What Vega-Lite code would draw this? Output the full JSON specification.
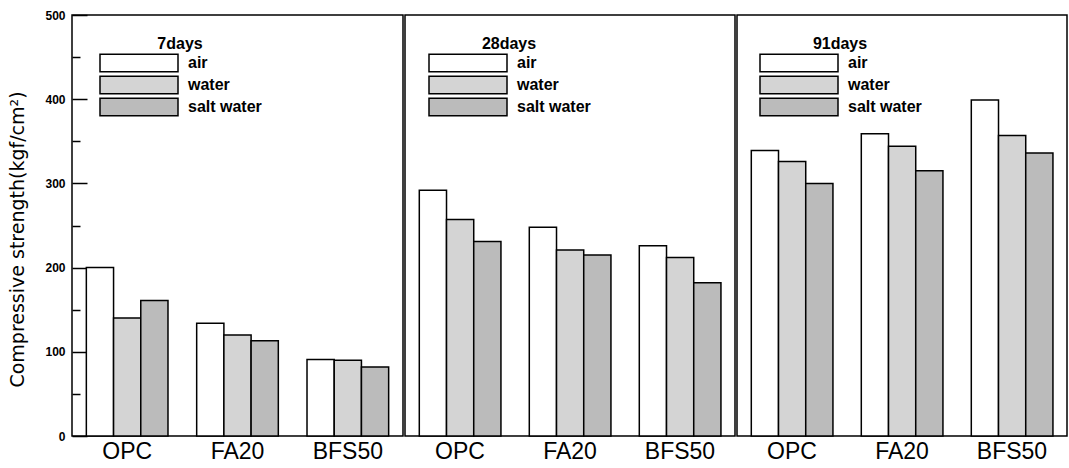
{
  "$schema": "https://vega.github.io/schema/vega-lite/v6.json",
  "padding": {"left": 8, "top": 8, "right": 4, "bottom": 3},
  "spacing": 0,
  "background": "white",
  "datasets": {
    "d": [
      {"age": "7days", "material": "OPC", "condition": "air", "strength": 200},
      {"age": "7days", "material": "OPC", "condition": "water", "strength": 140},
      {"age": "7days", "material": "OPC", "condition": "salt water", "strength": 161},
      {"age": "7days", "material": "FA20", "condition": "air", "strength": 134},
      {"age": "7days", "material": "FA20", "condition": "water", "strength": 120},
      {"age": "7days", "material": "FA20", "condition": "salt water", "strength": 113},
      {"age": "7days", "material": "BFS50", "condition": "air", "strength": 91},
      {"age": "7days", "material": "BFS50", "condition": "water", "strength": 90},
      {"age": "7days", "material": "BFS50", "condition": "salt water", "strength": 82},
      {"age": "28days", "material": "OPC", "condition": "air", "strength": 292},
      {"age": "28days", "material": "OPC", "condition": "water", "strength": 257},
      {"age": "28days", "material": "OPC", "condition": "salt water", "strength": 231},
      {"age": "28days", "material": "FA20", "condition": "air", "strength": 248},
      {"age": "28days", "material": "FA20", "condition": "water", "strength": 221},
      {"age": "28days", "material": "FA20", "condition": "salt water", "strength": 215},
      {"age": "28days", "material": "BFS50", "condition": "air", "strength": 226},
      {"age": "28days", "material": "BFS50", "condition": "water", "strength": 212},
      {"age": "28days", "material": "BFS50", "condition": "salt water", "strength": 182},
      {"age": "91days", "material": "OPC", "condition": "air", "strength": 339},
      {"age": "91days", "material": "OPC", "condition": "water", "strength": 326},
      {"age": "91days", "material": "OPC", "condition": "salt water", "strength": 300},
      {"age": "91days", "material": "FA20", "condition": "air", "strength": 359},
      {"age": "91days", "material": "FA20", "condition": "water", "strength": 344},
      {"age": "91days", "material": "FA20", "condition": "salt water", "strength": 315},
      {"age": "91days", "material": "BFS50", "condition": "air", "strength": 399},
      {"age": "91days", "material": "BFS50", "condition": "water", "strength": 357},
      {"age": "91days", "material": "BFS50", "condition": "salt water", "strength": 336}
    ]
  },
  "config": {
    "view": {"stroke": "black", "strokeWidth": 1.5},
    "font": "Liberation Sans",
    "axisX": {
      "domain": false, "ticks": false, "title": null, "labelAngle": 0,
      "labelFont": "Liberation Sans", "labelFontSize": 23, "labelColor": "black", "labelPadding": 4
    },
    "legend": {
      "orient": "none",
      "symbolType": "M-1,-0.975L7.667,-0.975L7.667,0.975L-1,0.975Z",
      "symbolSize": 324, "symbolStrokeColor": "black", "symbolStrokeWidth": 1.2, "symbolOpacity": 1,
      "labelFont": "Liberation Sans", "labelFontSize": 16, "labelFontWeight": "bold", "labelColor": "black",
      "labelOffset": 69, "rowPadding": -2,
      "titleFont": "Liberation Sans", "titleFontSize": 16, "titleFontWeight": "bold", "titleColor": "black",
      "titleAnchor": "middle", "titlePadding": 1
    },
    "bar": {"stroke": "black", "strokeWidth": 1.5}
  },
  "hconcat": [
    {
      "width": 331, "height": 421,
      "data": {"name": "d"},
      "transform": [{"filter": "datum.age === '7days'"}],
      "layer": [
        {
          "mark": {"type": "bar"},
          "encoding": {
            "x": {"field": "material", "type": "nominal", "sort": ["OPC", "FA20", "BFS50"], "scale": {"paddingInner": 0.26, "paddingOuter": 0.13}},
            "xOffset": {"field": "condition", "type": "nominal", "sort": ["air", "water", "salt water"], "scale": {"paddingInner": 0, "paddingOuter": 0}},
            "y": {
              "field": "strength", "type": "quantitative", "scale": {"domain": [0, 500]},
              "axis": {
                "values": [0, 100, 200, 300, 400, 500],
                "tickSize": -15,
                "tickColor": "black", "tickWidth": 1.5, "domain": false, "grid": false,
                "labelFont": "Liberation Sans", "labelFontSize": 12, "labelFontWeight": "bold", "labelColor": "black",
                "labelPadding": 22,
                "title": "Compressive strength(kgf/cm²)", "titleFont": "DejaVu Sans", "titleFontSize": 19,
                "titleFontWeight": "normal", "titleColor": "black", "titlePadding": 17, "titleY": 224
              }
            },
            "fill": {"field": "condition", "type": "nominal", "title": "7days",
              "scale": {"domain": ["air", "water", "salt water"], "range": ["#ffffff", "#d4d4d4", "#bbbbbb"]},
              "legend": {"legendX": 27, "legendY": 21}}
          }
        },
        {
          "mark": {"type": "point", "opacity": 0},
          "encoding": {
            "y": {
              "field": "strength", "type": "quantitative", "scale": {"domain": [0, 500]},
              "axis": {
                "orient": "left", "values": [50, 150, 250, 350, 450], "tickSize": -8,
                "tickColor": "black", "tickWidth": 1.5, "domain": false, "grid": false,
                "labels": false, "title": null
              }
            }
          }
        }
      ],
      "resolve": {"axis": {"y": "independent"}}
    },
    {
      "width": 330, "height": 421,
      "data": {"name": "d"},
      "transform": [{"filter": "datum.age === '28days'"}],
      "mark": {"type": "bar"},
      "encoding": {
        "x": {"field": "material", "type": "nominal", "sort": ["OPC", "FA20", "BFS50"], "scale": {"paddingInner": 0.26, "paddingOuter": 0.13}},
        "xOffset": {"field": "condition", "type": "nominal", "sort": ["air", "water", "salt water"], "scale": {"paddingInner": 0, "paddingOuter": 0}},
        "y": {"field": "strength", "type": "quantitative", "scale": {"domain": [0, 500]}, "axis": null},
        "fill": {"field": "condition", "type": "nominal", "title": "28days",
          "scale": {"domain": ["air", "water", "salt water"], "range": ["#ffffff", "#d4d4d4", "#bbbbbb"]},
          "legend": {"legendX": 23, "legendY": 21}}
      }
    },
    {
      "width": 330, "height": 421,
      "data": {"name": "d"},
      "transform": [{"filter": "datum.age === '91days'"}],
      "mark": {"type": "bar"},
      "encoding": {
        "x": {"field": "material", "type": "nominal", "sort": ["OPC", "FA20", "BFS50"], "scale": {"paddingInner": 0.26, "paddingOuter": 0.13}},
        "xOffset": {"field": "condition", "type": "nominal", "sort": ["air", "water", "salt water"], "scale": {"paddingInner": 0, "paddingOuter": 0}},
        "y": {"field": "strength", "type": "quantitative", "scale": {"domain": [0, 500]}, "axis": null},
        "fill": {"field": "condition", "type": "nominal", "title": "91days",
          "scale": {"domain": ["air", "water", "salt water"], "range": ["#ffffff", "#d4d4d4", "#bbbbbb"]},
          "legend": {"legendX": 22, "legendY": 21}}
      }
    }
  ],
  "resolve": {"scale": {"fill": "independent", "x": "independent"}, "legend": {"fill": "independent"}}
}
